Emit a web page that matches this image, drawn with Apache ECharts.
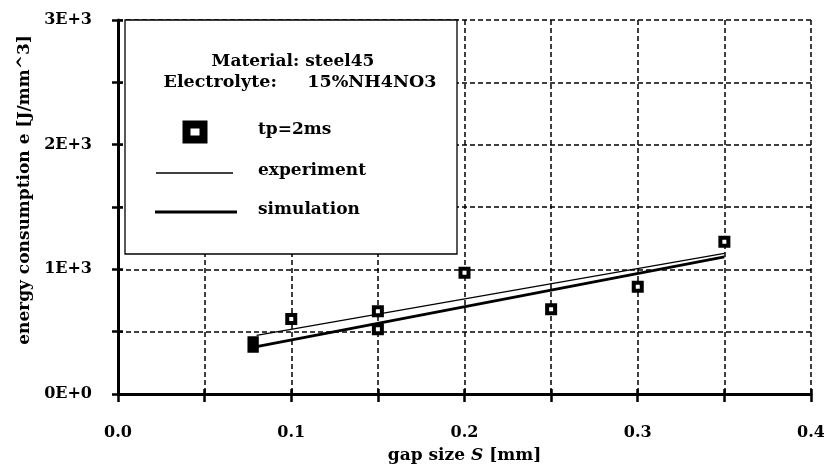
<!DOCTYPE html>
<html>
<head>
<meta charset="utf-8">
<script src="https://cdn.jsdelivr.net/npm/echarts/dist/echarts.min.js"></script>
<style>
html,body{margin:0;padding:0;background:#fff;}
#chart{width:824px;height:470px;}
</style>
</head>
<body>
<div id="chart"></div>
<script>
// ---- data ----
const measX = [0.078, 0.1, 0.15, 0.15, 0.2, 0.25, 0.3, 0.35];
const measY = [397, 601, 663, 520, 973, 679, 861, 1222];
const expX = [0.08, 0.35];
const expY = [470, 1128];
const simX = [0.08, 0.35];
const simY = [380, 1100];
const xTickLabels = ['0.0', '0.1', '0.2', '0.3', '0.4'];
const yTickLabels = ['0E+0', '1E+3', '2E+3', '3E+3'];
const legendTitle1 = 'Material: steel45';
const legendTitle2 = 'Electrolyte:     15%NH4NO3';
const seriesNames = ['tp=2ms', 'experiment', 'simulation'];

const FONT = '"DejaVu Serif", "Liberation Serif", serif';
const chart = echarts.init(document.getElementById('chart'), null, {renderer: 'canvas'});

const measData = measX.map((x, i) => {
  const item = {value: [x, measY[i]]};
  if (i === 0) {
    item.symbolSize = [8, 11.5];
    item.itemStyle = {color: '#000', borderColor: '#000', borderWidth: 4};
  }
  return item;
});
const expData = expX.map((x, i) => [x, expY[i]]);
const simData = simX.map((x, i) => [x, simY[i]]);

const labelStyle = {color: '#000', fontFamily: FONT, fontWeight: 'bold', fontSize: 16};
const dashed = {show: true, lineStyle: {color: '#000', width: 1.5, type: [5, 3]}};

function xFmt(v) {
  const i = Math.round(v / 0.1);
  return Math.abs(v - i * 0.1) < 1e-6 ? xTickLabels[i] : '';
}
function yFmt(v) {
  const i = Math.round(v / 1000);
  return Math.abs(v - i * 1000) < 1e-6 ? yTickLabels[i] : '';
}

const option = {
  animation: false,
  backgroundColor: '#fff',
  grid: {left: 118, right: 13, top: 20, bottom: 76, containLabel: false, outerBoundsMode: 'none'},
  xAxis: [{
    type: 'value', min: 0, max: 0.4, interval: 0.05, position: 'bottom',
    axisLine: {show: true, onZero: false, lineStyle: {color: '#000', width: 3}},
    axisTick: {show: true, inside: false, length: 8, lineStyle: {color: '#000', width: 2.5}},
    axisLabel: Object.assign({margin: 31, formatter: xFmt, showMinLabel: true, showMaxLabel: true}, labelStyle),
    splitLine: dashed,
    name: 'gap size {i|S} [mm]',
    nameLocation: 'middle', nameGap: 53,
    nameTextStyle: {color: '#000', fontFamily: FONT, fontWeight: 'bold', fontSize: 17,
      rich: {i: {fontStyle: 'italic', fontFamily: FONT, fontWeight: 'bold', fontSize: 17, color: '#000'}}}
  }, {
    type: 'value', min: 0, max: 0.4, interval: 0.05, position: 'bottom', gridIndex: 0,
    axisLine: {show: false, onZero: false},
    axisTick: {show: true, inside: true, length: 5, lineStyle: {color: '#000', width: 2.5}},
    axisLabel: {show: false}, splitLine: {show: false}
  }],
  yAxis: [{
    type: 'value', min: 0, max: 3000, interval: 500, position: 'left',
    axisLine: {show: true, onZero: false, lineStyle: {color: '#000', width: 3}},
    axisTick: {show: true, inside: false, length: 6, lineStyle: {color: '#000', width: 2.5}},
    axisLabel: Object.assign({margin: 26, formatter: yFmt, showMinLabel: true, showMaxLabel: true}, labelStyle),
    splitLine: dashed
  }, {
    type: 'value', min: 0, max: 3000, interval: 500, position: 'left', gridIndex: 0,
    axisLine: {show: false, onZero: false},
    axisTick: {show: true, inside: true, length: 5, lineStyle: {color: '#000', width: 2.5}},
    axisLabel: {show: false}, splitLine: {show: false}
  }],
  series: [{
    name: seriesNames[1], type: 'line', data: expData, xAxisIndex: 0, yAxisIndex: 0,
    symbol: 'none', lineStyle: {color: '#000', width: 1.3}, z: 3
  }, {
    name: seriesNames[2], type: 'line', data: simData, xAxisIndex: 0, yAxisIndex: 0,
    symbol: 'none', lineStyle: {color: '#000', width: 3}, z: 3
  }, {
    name: seriesNames[0], type: 'scatter', data: measData, xAxisIndex: 0, yAxisIndex: 0,
    symbol: 'rect', symbolSize: 8,
    itemStyle: {color: '#fff', borderColor: '#000', borderWidth: 4, opacity: 1}, z: 5
  }],
  graphic: [
    {type: 'rect', z: 100, shape: {x: 125, y: 20, width: 332, height: 234},
      style: {fill: '#fff', stroke: '#000', lineWidth: 1.3}},
    {type: 'text', z: 101, style: {x: 293, y: 62, text: legendTitle1, fill: '#000',
      font: 'bold 17px ' + FONT, textAlign: 'center', align: 'center', textVerticalAlign: 'middle', verticalAlign: 'middle'}},
    {type: 'text', z: 101, style: {x: 300, y: 82, text: legendTitle2, fill: '#000',
      font: 'bold 17.5px ' + FONT, textAlign: 'center', align: 'center', textVerticalAlign: 'middle', verticalAlign: 'middle'}},
    {type: 'rect', z: 101, shape: {x: 186.5, y: 124.5, width: 17, height: 15},
      style: {fill: '#fff', stroke: '#000', lineWidth: 8}},
    {type: 'line', z: 101, shape: {x1: 156, y1: 173, x2: 233, y2: 173},
      style: {stroke: '#000', lineWidth: 1.3}},
    {type: 'line', z: 101, shape: {x1: 155, y1: 212, x2: 237, y2: 212},
      style: {stroke: '#000', lineWidth: 3}},
    {type: 'text', z: 101, style: {x: 258, y: 130, text: seriesNames[0], fill: '#000',
      font: 'bold 17px ' + FONT, textAlign: 'left', align: 'left', textVerticalAlign: 'middle', verticalAlign: 'middle'}},
    {type: 'text', z: 101, style: {x: 258, y: 171, text: seriesNames[1], fill: '#000',
      font: 'bold 17px ' + FONT, textAlign: 'left', align: 'left', textVerticalAlign: 'middle', verticalAlign: 'middle'}},
    {type: 'text', z: 101, style: {x: 258, y: 210, text: seriesNames[2], fill: '#000',
      font: 'bold 17px ' + FONT, textAlign: 'left', align: 'left', textVerticalAlign: 'middle', verticalAlign: 'middle'}},
    {type: 'text', z: 101, x: 25, y: 190, rotation: Math.PI / 2,
      style: {x: 0, y: 0, text: 'energy consumption e [J/mm^3]', fill: '#000',
      font: 'bold 17px ' + FONT, textAlign: 'center', align: 'center', textVerticalAlign: 'middle', verticalAlign: 'middle'}}
  ]
};
chart.setOption(option);
</script>
</body>
</html>
